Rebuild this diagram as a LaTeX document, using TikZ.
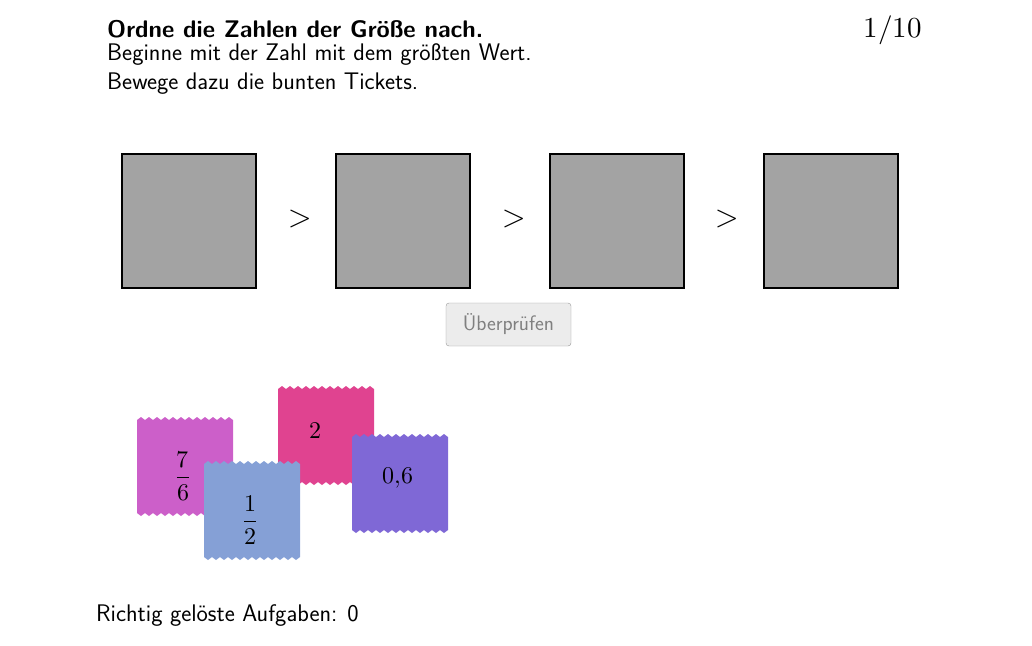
\documentclass[tikz,border=0pt]{standalone}
\usepackage{fontspec}
\usepackage{unicode-math}
\setmathfont{Latin Modern Math}
\begin{document}
\begin{tikzpicture}[x=1pt,y=-1pt,
  slot/.style={draw=black,line width=2pt,fill=slotgray},
  txt/.style={font=\sffamily\fontsize{24}{28}\selectfont,anchor=base west,inner sep=0pt},
  tnum/.style={font=\fontsize{24}{28}\selectfont,inner sep=0pt}]
\definecolor{slotgray}{HTML}{A3A3A3}
\definecolor{tA}{HTML}{CC5FC9}
\definecolor{tB}{HTML}{85A0D6}
\definecolor{tC}{HTML}{E04390}
\definecolor{tD}{HTML}{7F68D6}
\useasboundingbox (0,0) rectangle (1032,645);
\newcommand{\ticket}[6]{%
  \fill[#3] (#1,#2) \foreach \i in {1,...,12}{-- ++(4,-3) -- ++(4,3)}
    -- ++(0,93) \foreach \i in {1,...,12}{-- ++(-4,3) -- ++(-4,-3)} -- cycle;
  \node[tnum] (#4) at ({#1+#5},{#2+#6}) {};}
\node[txt,font=\sffamily\bfseries\fontsize{24}{28}\selectfont] (t1) at (107,37) {Ordne die Zahlen der Größe nach.};
\node[txt] (t2) at (107,60) {Beginne mit der Zahl mit dem größten Wert.};
\node[txt] (t3) at (107,89) {Bewege dazu die bunten Tickets.};
\node[font=\fontsize{29}{34}\selectfont,anchor=base east,inner sep=0pt] (cnt) at (922,37) {$1/10$};
\foreach \x/\n in {122/a,336/b,550/c,764/d}
  \draw[slot] (\x,154) rectangle ++(134,134) node[pos=.5] (\n) {};
\foreach \x/\n in {300/g1,514/g2,727/g3}
  \node[font=\fontsize{30}{34}\selectfont] (\n) at (\x,219) {$>$};
\node[draw=gray!80,fill=gray!15,rounded corners=3pt,minimum width=125,minimum height=43,
  font=\sffamily\fontsize{21}{24}\selectfont,text=gray] (btn) at (508.5,324.5) {Überprüfen};
\ticket{137}{420}{tA}{k1}{46}{56}
\node[tnum] at (k1) {$\displaystyle\frac{7}{6}$};
\ticket{278}{389}{tC}{k3}{37}{42}
\node[tnum] at (k3) {$2$};
\ticket{352}{437}{tD}{k4}{46}{41}
\node[tnum] at (k4) {$0{,}6$};
\ticket{204}{464}{tB}{k2}{46}{56}
\node[tnum] at (k2) {$\displaystyle\frac{1}{2}$};
\node[txt] (score) at (96,621) {Richtig gelöste Aufgaben: 0};
\end{tikzpicture}
\end{document}
